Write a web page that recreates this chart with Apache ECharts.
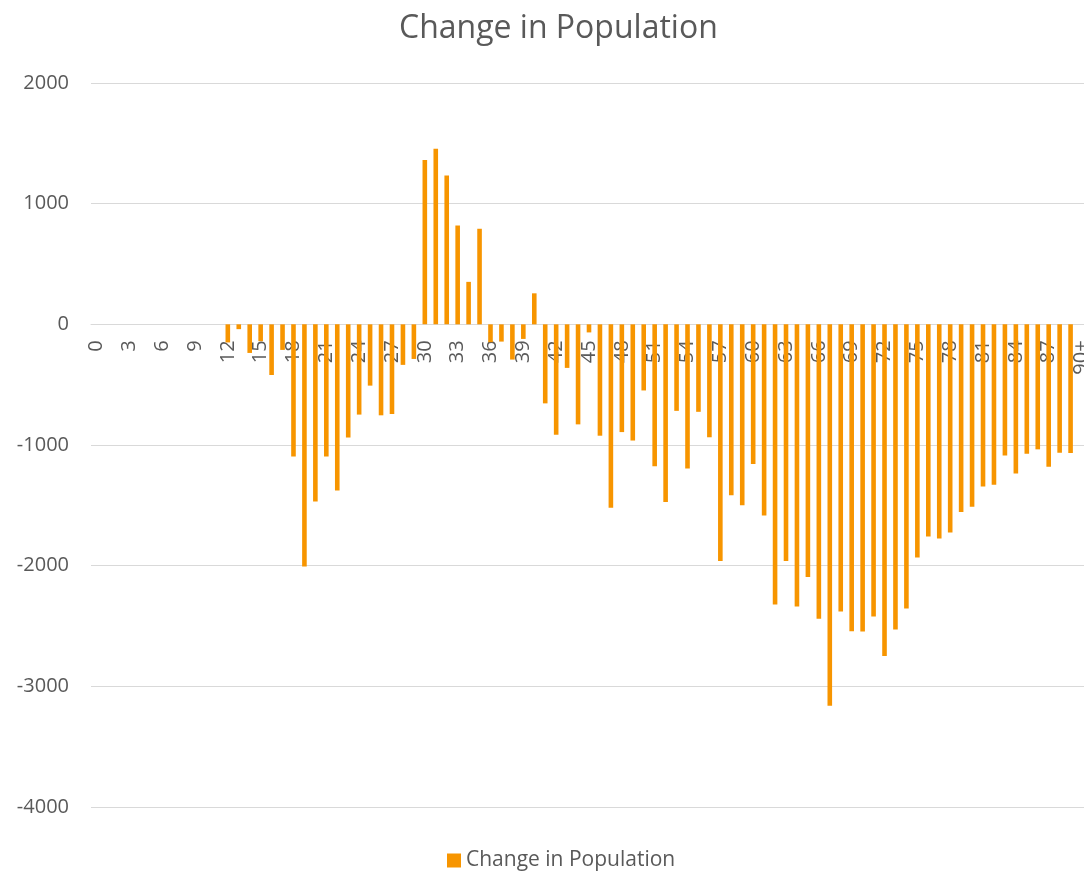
<!DOCTYPE html>
<html>
<head>
<meta charset="utf-8">
<script src="https://cdn.jsdelivr.net/npm/echarts@6/dist/echarts.min.js"></script>
<style>
html,body{margin:0;padding:0;background:#fff;}
#chart{width:1084px;height:871px;}
</style>
</head>
<body>
<div id="chart"></div>
<script>
// Age categories
const categories = [];
for (let i = 0; i < 90; i++) categories.push(String(i));
categories.push('90+');

// Change in population per age
const changeValues = [
  null, null, null, null, null, null, null, null, null, null, null, null,
  -150, -40, -237, -140, -420, -212, -1095, -2007, -1468, -1095,
  -1377, -938, -748, -508, -754, -743, -336, -287,
  1361, 1455, 1234, 819, 352, 792,
  -148, -143, -292, -121, 257,
  -655, -915, -361, -829, -67, -923, -1520, -893, -963, -548,
  -1176, -1472, -717, -1195, -725, -936, -1962, -1417, -1500, -1157,
  -1585, -2322, -1962, -2338, -2094, -2440, -3160, -2380, -2543, -2546,
  -2422, -2748, -2530, -2356, -1932, -1758, -1775, -1725, -1556, -1512,
  -1344, -1330, -1086, -1236, -1072, -1036, -1180, -1064, -1067,
  null
];

const yMin = -4000;
const yMax = 2000;
const yStep = 1000;

const seriesName = 'Change in Population';
const titleText = 'Change in Population';

const textColor = '#595959';
const fontFam = '"Open Sans", "Noto Sans", sans-serif';

const gridTop = 83;
const gridHeight = 724;
// place category axis at the value 0 line
const zeroOffset = -gridHeight * (0 - yMin) / (yMax - yMin);

const chart = echarts.init(document.getElementById('chart'), null, {renderer: 'canvas'});
chart.setOption({
  animation: false,
  backgroundColor: '#ffffff',
  title: {
    text: titleText,
    left: 394,
    top: 8,
    textStyle: {color: textColor, fontSize: 32, fontWeight: 'normal', fontFamily: fontFam}
  },
  legend: {
    data: [seriesName],
    top: 845,
    left: 442,
    itemWidth: 14,
    itemHeight: 14,
    icon: 'rect',
    itemGap: 6,
    textStyle: {color: textColor, fontSize: 21, fontFamily: fontFam}
  },
  grid: {
    left: 91,
    top: gridTop,
    width: 996,
    height: gridHeight,
    containLabel: false,
    outerBoundsMode: 'none'
  },
  xAxis: {
    type: 'category',
    data: categories,
    offset: zeroOffset,
    z: 0,
    axisLine: {onZero: false, lineStyle: {color: '#d9d9d9', width: 1}},
    axisTick: {show: false},
    axisLabel: {
      interval: 2,
      rotate: 90,
      margin: 16,
      color: textColor,
      fontSize: 20,
      fontFamily: fontFam
    }
  },
  yAxis: {
    type: 'value',
    min: yMin,
    max: yMax,
    interval: yStep,
    axisLine: {show: false},
    axisTick: {show: false},
    splitLine: {lineStyle: {color: '#d9d9d9', width: 1}},
    axisLabel: {
      color: textColor, fontSize: 20, margin: 22, fontFamily: fontFam,
      formatter: function (v) { return String(v); }
    }
  },
  series: [{
    name: seriesName,
    type: 'bar',
    z: 5,
    data: changeValues,
    barWidth: 4.6,
    itemStyle: {color: '#F79500'}
  }]
});
</script>
</body>
</html>
